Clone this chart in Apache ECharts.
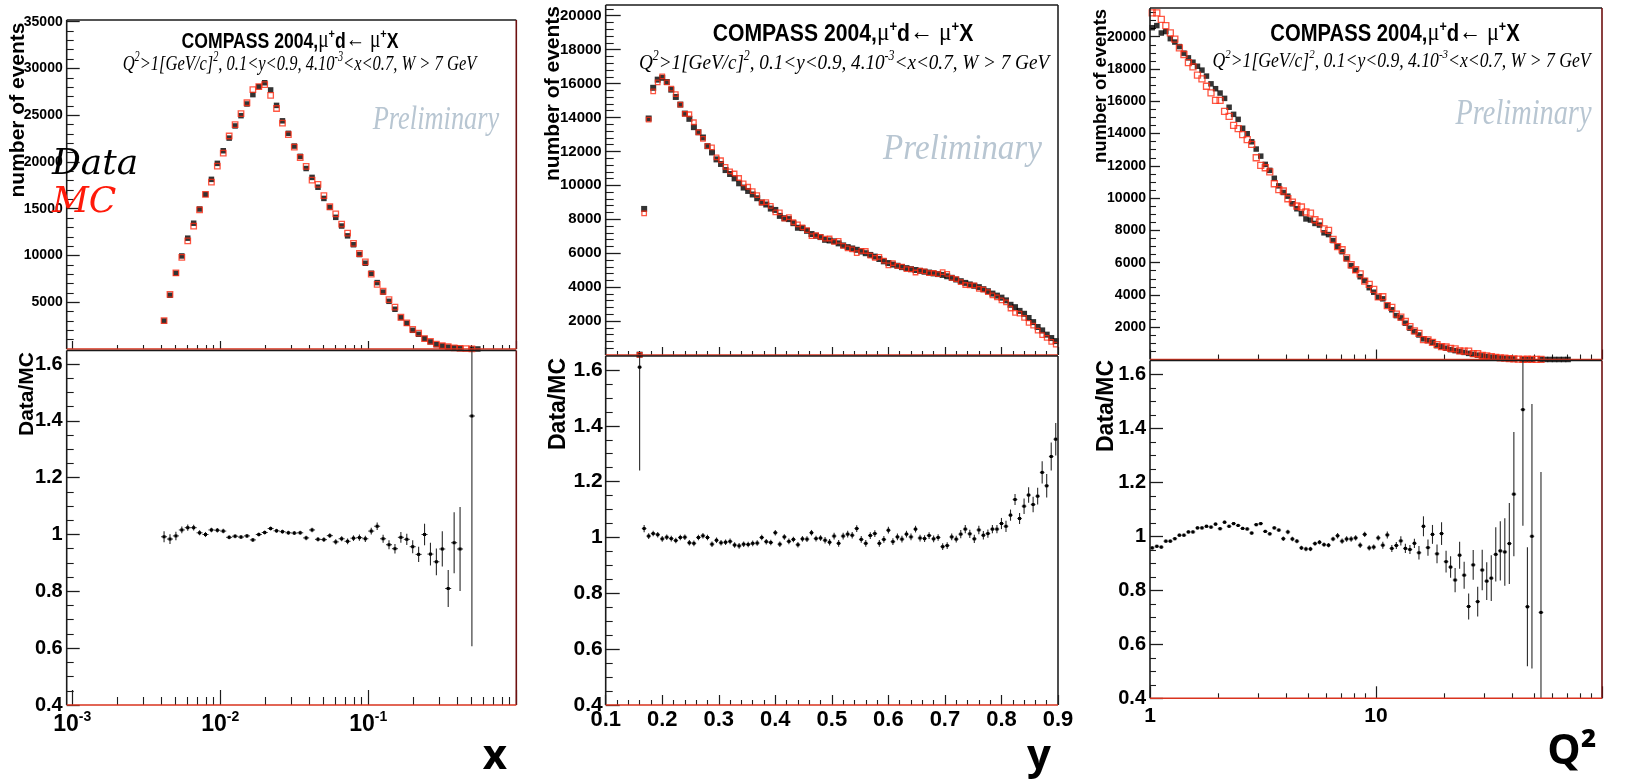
<!DOCTYPE html>
<html><head><meta charset="utf-8"><title>COMPASS 2004 Data vs MC</title>
<script src="https://cdn.jsdelivr.net/npm/echarts@6.0.0/dist/echarts.min.js"></script>
<style>html,body{margin:0;padding:0;background:#fff;}#chart{width:1630px;height:782px;}</style>
</head><body><div id="chart"></div>
<script>
// ---------------- Panel 1 : x (Bjorken x, log bins) ----------------
const xBins = [0.004169,0.004571,0.005012,0.005495,0.006026,0.006607,0.007244,0.007943,0.008710,0.009550,
 0.01047,0.01148,0.01259,0.01380,0.01514,0.01660,0.01820,0.01995,0.02188,0.02399,
 0.02630,0.02884,0.03162,0.03467,0.03802,0.04169,0.04571,0.05012,0.05495,0.06026,
 0.06607,0.07244,0.07943,0.08710,0.09550,0.1047,0.1148,0.1259,0.1380,0.1514,
 0.1660,0.1820,0.1995,0.2188,0.2399,0.2630,0.2884,0.3162,0.3467,0.3802,
 0.4169,0.4571,0.5012,0.5495];
const xData = [3000,5750,8100,9950,11850,13450,14970,16540,18140,19850,
 21200,22550,23850,24950,26200,27200,28050,28470,27700,26050,
 24400,23060,21700,20600,19300,18350,17300,16100,15150,14080,
 13150,12100,11150,10100,9170,8100,7100,6080,5100,4250,
 3360,2750,2000,1580,1120,760,470,330,200,120,
 70,null,6,3];
const xMC = [3024,5843,8141,9793,11572,13135,14881,16540,17854,19557,
 20949,22778,23994,25177,26332,27727,28050,28272,27130,25716,
 24158,22922,21592,20477,19534,18061,17599,16395,15211,14456,
 13350,12398,11297,10212,9310,8004,6900,6173,5290,4474,
 3394,2798,2090,1699,1120,816,520,348,247,124,
 74,40,4,null];
const xRatio = [0.992,0.984,0.995,1.016,1.024,1.024,1.006,1.0,1.016,1.015,
 1.012,0.99,0.994,0.991,0.995,0.981,1.0,1.007,1.021,1.013,
 1.01,1.006,1.005,1.006,0.988,1.016,0.983,0.982,0.996,0.974,
 0.985,0.976,0.987,0.989,0.985,1.012,1.029,0.985,0.964,0.95,
 0.99,0.983,0.957,0.93,1.0,0.931,0.904,0.949,0.81,0.971,
 0.949,null,1.417,null];
const xRatioErr = [0.019,0.017,0.015,0.012,0.011,0.010,0.009,0.009,0.008,0.008,
 0.008,0.007,0.007,0.007,0.007,0.007,0.007,0.007,0.007,0.007,
 0.007,0.007,0.007,0.007,0.008,0.008,0.008,0.008,0.008,0.009,
 0.009,0.010,0.010,0.011,0.011,0.012,0.013,0.014,0.016,0.017,
 0.019,0.020,0.023,0.027,0.038,0.040,0.047,0.062,0.065,0.107,
 0.148,null,0.81,null];

// ---------------- Panel 2 : y ----------------
const yBins = [0.160,0.168,0.176,0.184,0.192,0.200,0.208,0.216,0.224,0.232,
 0.240,0.248,0.256,0.264,0.272,0.280,0.288,0.296,0.304,0.312,
 0.320,0.328,0.336,0.344,0.352,0.360,0.368,0.376,0.384,0.392,
 0.400,0.408,0.416,0.424,0.432,0.440,0.448,0.456,0.464,0.472,
 0.480,0.488,0.496,0.504,0.512,0.520,0.528,0.536,0.544,0.552,
 0.560,0.568,0.576,0.584,0.592,0.600,0.608,0.616,0.624,0.632,
 0.640,0.648,0.656,0.664,0.672,0.680,0.688,0.696,0.704,0.712,
 0.720,0.728,0.736,0.744,0.752,0.760,0.768,0.776,0.784,0.792,
 0.800,0.808,0.816,0.824,0.832,0.840,0.848,0.856,0.864,0.872,
 0.880,0.888,0.896];
const yData = [20,8610,13940,15750,16230,16340,16090,15640,15210,14760,
 14230,13920,13430,13130,12820,12310,11940,11530,11260,10900,
 10670,10410,10120,9870,9670,9460,9240,8990,8870,8630,
 8550,8200,8060,8010,7770,7500,7480,7320,7130,7030,
 6950,6790,6750,6700,6580,6460,6360,6280,6200,6100,
 6000,5900,5800,5660,5520,5420,5330,5260,5180,5120,
 5060,5010,4960,4910,4860,4810,4770,4720,4640,4550,
 4450,4350,4250,4160,4080,4000,3880,3760,3620,3500,
 3380,3220,2960,2820,2600,2430,2180,1940,1650,1450,
 1200,1000,820];
const yMC = [12,8343,13871,15533,16069,16422,16074,15703,15379,14760,
 14216,14190,13718,13130,12744,12310,12234,11646,11478,11089,
 10822,10699,10433,10113,9918,9663,9429,8990,9005,8788,
 8407,8402,8044,8124,7825,7700,7518,7364,7011,7058,
 6964,6859,6867,6667,6721,6428,6285,6230,6008,6143,
 6129,5859,5720,5781,5559,5283,5411,5250,5211,5059,
 5050,4864,4970,4930,4826,4834,4770,4881,4779,4541,
 4477,4298,4126,4107,4101,3895,3849,3708,3515,3398,
 3219,3096,2741,2482,2434,2185,1892,1735,1437,1176,
 1013,775,607];
const yRatio = [1.61,1.032,1.005,1.014,1.01,0.995,1.001,0.996,0.989,1.0,
 1.001,0.981,0.979,1.0,1.006,1.0,0.976,0.99,0.981,0.983,
 0.986,0.973,0.97,0.976,0.975,0.979,0.98,1.0,0.985,0.982,
 1.017,0.976,1.002,0.986,0.993,0.974,0.995,0.994,1.017,0.996,
 0.998,0.99,0.983,1.005,0.979,1.005,1.012,1.008,1.032,0.993,
 0.979,1.007,1.014,0.979,0.993,1.026,0.985,1.002,0.994,1.012,
 1.002,1.03,0.998,0.996,1.007,0.995,1.0,0.967,0.971,1.002,
 0.994,1.012,1.03,1.013,0.995,1.027,1.008,1.014,1.03,1.03,
 1.05,1.04,1.08,1.136,1.068,1.112,1.152,1.118,1.148,1.233,
 1.185,1.29,1.352];
const yRatioErr = [0.37,0.013,0.010,0.010,0.010,0.010,0.010,0.010,0.010,0.010,
 0.010,0.010,0.010,0.010,0.010,0.010,0.010,0.010,0.010,0.010,
 0.010,0.010,0.010,0.010,0.010,0.010,0.010,0.010,0.010,0.010,
 0.010,0.010,0.010,0.010,0.010,0.010,0.010,0.010,0.010,0.010,
 0.010,0.012,0.012,0.012,0.012,0.012,0.012,0.012,0.012,0.012,
 0.012,0.012,0.012,0.012,0.012,0.012,0.012,0.012,0.012,0.012,
 0.012,0.012,0.012,0.012,0.012,0.012,0.012,0.012,0.012,0.012,
 0.012,0.015,0.015,0.015,0.015,0.015,0.015,0.015,0.015,0.015,
 0.020,0.020,0.020,0.020,0.020,0.028,0.028,0.028,0.030,0.040,
 0.042,0.050,0.058];

// ---------------- Panel 3 : Q^2 (log bins) ----------------
const qBins = [1.023,1.072,1.122,1.175,1.230,1.288,1.349,1.413,1.479,1.549,
 1.622,1.698,1.778,1.862,1.950,2.042,2.138,2.239,2.344,2.455,
 2.570,2.692,2.818,2.951,3.090,3.236,3.388,3.548,3.715,3.890,
 4.074,4.266,4.467,4.677,4.898,5.129,5.370,5.623,5.888,6.166,
 6.457,6.761,7.079,7.413,7.762,8.128,8.511,8.913,9.333,9.772,
 10.23,10.72,11.22,11.75,12.30,12.88,13.49,14.13,14.79,15.49,
 16.22,16.98,17.78,18.62,19.50,20.42,21.38,22.39,23.44,24.55,
 25.70,26.92,28.18,29.51,30.90,32.36,33.88,35.48,37.15,38.90,
 40.74,42.66,44.67,46.77,48.98,51.29,53.70,56.23,58.88,61.66,
 64.57,67.61,70.79];
const qData = [20560,20690,20230,20320,19880,19670,19390,18980,18690,18420,
 18170,17930,17560,17080,16780,16510,16180,15630,15190,14880,
 14330,13990,13490,13040,12600,12090,11720,11230,10760,10350,
 10120,9650,9340,9040,8710,8640,8430,8330,7850,7740,
 7370,7010,6680,6240,5810,5530,5130,4890,4450,4170,
 3860,3760,3350,3080,2720,2580,2250,1940,1730,1520,
 1280,1170,1070,860,800,700,610,550,500,440,
 380,320,270,225,185,150,120,95,75,58,
 42,null,18,12,7,null,4,3,2,1,
 1,1,1];
const qMC = [21480,21480,21070,20690,20240,19850,19310,18900,18400,18130,
 17620,17390,16930,16520,16060,16060,15380,15070,14510,14310,
 13930,13620,13330,12500,12030,11880,11620,10890,10520,10440,
 9960,9750,9510,9450,9140,9070,8660,8520,8100,8000,
 7440,7000,6800,6300,5870,5560,5310,4860,4650,4344,
 3883,3888,3333,3225,2816,2625,2356,2040,1776,1619,
 1234,1221,1063,920,792,773,688,656,538,514,
 514,358,356,257,222,178,129,100,80,60,
 36,28,12,16,7,5,6,null,null,null,
 null,null,null];
const qRatio = [0.957,0.963,0.96,0.982,0.982,0.991,1.004,1.004,1.016,1.016,
 1.031,1.031,1.037,1.034,1.045,1.028,1.052,1.037,1.047,1.04,
 1.029,1.027,1.012,1.043,1.047,1.018,1.009,1.031,1.023,0.991,
 1.016,0.99,0.982,0.957,0.953,0.953,0.973,0.978,0.969,0.967,
 0.99,1.002,0.982,0.99,0.99,0.994,0.967,1.007,0.957,0.96,
 0.994,0.967,1.005,0.955,0.966,0.983,0.955,0.951,0.974,0.939,
 1.037,0.958,1.007,0.935,1.01,0.906,0.886,0.838,0.93,0.856,
 0.74,0.894,0.758,0.875,0.834,0.845,0.933,0.946,0.942,0.973,
 1.156,null,1.469,0.739,1.0,null,0.718];
const qRatioErr = [0.006,0.006,0.006,0.006,0.006,0.006,0.006,0.006,0.006,0.006,
 0.006,0.006,0.006,0.006,0.006,0.006,0.006,0.006,0.006,0.006,
 0.006,0.006,0.006,0.006,0.006,0.006,0.006,0.006,0.006,0.008,
 0.008,0.008,0.008,0.008,0.008,0.008,0.008,0.008,0.008,0.008,
 0.008,0.010,0.010,0.010,0.010,0.010,0.010,0.010,0.010,0.010,
 0.010,0.013,0.013,0.013,0.013,0.017,0.017,0.017,0.017,0.025,
 0.037,0.030,0.035,0.035,0.042,0.040,0.040,0.045,0.050,0.050,
 0.048,0.055,0.055,0.075,0.070,0.085,0.100,0.110,0.125,0.150,
 0.23,null,0.43,0.22,0.49,null,0.52];

// ---------------- Tick values ----------------
const p1YTicks = [5000,10000,15000,20000,25000,30000,35000];
const p2YTicks = [2000,4000,6000,8000,10000,12000,14000,16000,18000,20000];
const p3YTicks = [2000,4000,6000,8000,10000,12000,14000,16000,18000,20000];
const ratioTicks = [0.4,0.6,0.8,1,1.2,1.4,1.6];
const p1XTicks = [0.001,0.01,0.1,1];
const p1XLabels = [0.001,0.01,0.1];
const p2XTicks = [0.1,0.2,0.3,0.4,0.5,0.6,0.7,0.8,0.9];
const p3XTicks = [1,10,100];
const p3XLabels = [1,10];

function seq(a, b, step) { const out = []; const n = Math.round((b - a) / step); for (let i = 0; i <= n; i++) out.push(+(a + i * step).toFixed(6)); return out; }
function minorOf(a, b, step, major) { return seq(a, b, step).filter(v => Math.abs(v / major - Math.round(v / major)) > 1e-6); }
function logMinor(decades) { const out = []; decades.forEach(d => { for (let m = 2; m <= 9; m++) out.push(+(m * d).toPrecision(6)); }); return out; }

// ---------------- Layout ----------------
const grids = [
  {left:72.3, top:20, width:444, height:329},
  {left:72.3, top:350.5, width:444, height:354.5},
  {left:605.7, top:5, width:452.3, height:350},
  {left:605.7, top:356, width:452.3, height:349},
  {left:1150, top:8, width:452, height:351.5},
  {left:1150, top:360.5, width:452, height:337.8}
];
const frameLeft = [66.7, 66.7, 605.7, 605.7, 1150, 1150];
const rightColor = ['#6e1010', '#6e1010', '#222', '#222', '#6e1010', '#6e1010'];

const TICK = '#1c1c1c';
function fmt(v) { return String(v); }
function xPair(g, o) {
  const base = {gridIndex:g, type:o.type, min:o.min, max:o.max, position:'bottom', axisLine:{show:false}, splitLine:{show:false}};
  if (o.type === 'log') base.logBase = 10;
  const major = Object.assign({}, base, {
    axisTick:{show:true, inside:true, length:o.majLen, customValues:o.major, lineStyle:{color:TICK, width:1.2}},
    axisLabel: o.labels ? Object.assign({show:true, customValues:o.labels, margin:o.margin, color:'#000',
      fontFamily:'Liberation Sans', fontWeight:'bold', fontSize:o.fs, formatter:o.formatter || fmt}, o.rich ? {rich:o.rich} : {}) : {show:false}
  });
  const minor = Object.assign({}, base, {
    axisTick:{show:true, inside:true, length:o.minLen, customValues:o.minor, lineStyle:{color:TICK, width:1.1}},
    axisLabel:{show:false}
  });
  return [major, minor];
}
function yPair(g, o) {
  const base = {gridIndex:g, type:'value', min:o.min, max:o.max, position:'left', offset:o.offset || 0, axisLine:{show:false}, splitLine:{show:false}};
  const major = Object.assign({}, base, {
    axisTick:{show:true, inside:true, length:o.majLen, customValues:o.major, lineStyle:{color:TICK, width:1.3}},
    axisLabel:{show:true, customValues:o.major, margin:o.margin, color:'#000', fontFamily:'Liberation Sans', fontWeight:'bold', fontSize:o.fs, formatter:fmt}
  });
  const minor = Object.assign({}, base, {
    axisTick:{show:true, inside:true, length:o.minLen, customValues:o.minor, lineStyle:{color:TICK, width:1.1}},
    axisLabel:{show:false}
  });
  return [major, minor];
}

const p1Rich = {
  b:{fontFamily:'Liberation Sans', fontWeight:'bold', fontSize:23, color:'#000', lineHeight:26, verticalAlign:'bottom'},
  s:{fontFamily:'Liberation Sans', fontWeight:'bold', fontSize:14, color:'#000', lineHeight:14, verticalAlign:'top'}
};

const xAxes = [].concat(
  xPair(0, {type:'log', min:0.001, max:1, major:p1XTicks, minor:logMinor([0.001,0.01,0.1]), majLen:8, minLen:4}),
  xPair(1, {type:'log', min:0.001, max:1, major:p1XTicks, minor:logMinor([0.001,0.01,0.1]), majLen:15, minLen:8,
            labels:p1XLabels, margin:5, fs:23, rich:p1Rich, formatter:v => '{b|10}{s|' + Math.round(Math.log10(v)) + '}'}),
  xPair(2, {type:'value', min:0.1, max:0.9, major:p2XTicks, minor:minorOf(0.12, 0.88, 0.02, 0.1), majLen:8, minLen:4}),
  xPair(3, {type:'value', min:0.1, max:0.9, major:p2XTicks, minor:minorOf(0.12, 0.88, 0.02, 0.1), majLen:10, minLen:5,
            labels:p2XTicks, margin:4, fs:22}),
  xPair(4, {type:'log', min:1, max:100, major:p3XTicks, minor:logMinor([1,10]), majLen:10, minLen:5}),
  xPair(5, {type:'log', min:1, max:100, major:p3XTicks, minor:logMinor([1,10]), majLen:12, minLen:5,
            labels:p3XLabels, margin:7, fs:21})
);
const yAxes = [].concat(
  yPair(0, {min:0, max:35180, major:p1YTicks, minor:minorOf(1000, 35000, 1000, 5000), majLen:13, minLen:7, fs:14, margin:4, offset:5.6}),
  yPair(1, {min:0.4, max:1.6475, major:ratioTicks, minor:minorOf(0.45, 1.6, 0.05, 0.2), majLen:13, minLen:7, fs:20, margin:4, offset:5.6}),
  yPair(2, {min:0, max:20630, major:p2YTicks, minor:minorOf(400, 20400, 400, 2000), majLen:15, minLen:8, fs:15, margin:4}),
  yPair(3, {min:0.4, max:1.65, major:ratioTicks, minor:minorOf(0.45, 1.6, 0.05, 0.2), majLen:14, minLen:7, fs:21, margin:3}),
  yPair(4, {min:0, max:21780, major:p3YTicks, minor:minorOf(500, 21500, 500, 2000), majLen:10, minLen:6, fs:14, margin:4}),
  yPair(5, {min:0.4, max:1.651, major:ratioTicks, minor:minorOf(0.45, 1.6, 0.05, 0.2), majLen:13, minLen:6, fs:20, margin:4})
);

// ---------------- Series helpers ----------------
function pts(xs, ys) { const out = []; for (let i = 0; i < xs.length; i++) if (ys[i] != null) out.push([xs[i], ys[i]]); return out; }
function errPts(xs, r, e) { const out = []; for (let i = 0; i < xs.length; i++) if (r[i] != null) out.push([xs[i], r[i], e[i]]); return out; }
function errRender(halfW, dot) {
  return function (params, api) {
    const x = api.value(0), y = api.value(1), e = api.value(2);
    const c = api.coord([x, y]);
    const cs = params.coordSys;
    const yTop = cs.y, yBot = cs.y + cs.height;
    const t = Math.max(api.coord([x, y + e])[1], yTop);
    const b = Math.min(api.coord([x, y - e])[1], yBot);
    const ch = [];
    if (b > t) ch.push({type:'line', shape:{x1:c[0], y1:t, x2:c[0], y2:b}, style:{stroke:'#2a2a2a', lineWidth:1.1}});
    if (c[1] >= yTop && c[1] <= yBot) {
      ch.push({type:'line', shape:{x1:c[0] - halfW, y1:c[1], x2:c[0] + halfW, y2:c[1]}, style:{stroke:'#2a2a2a', lineWidth:1}});
      ch.push({type:'rect', shape:{x:c[0] - dot / 2, y:c[1] - dot / 2, width:dot, height:dot}, style:{fill:'#000'}});
    }
    return {type:'group', children:ch};
  };
}
const RED = '#ff2d14';
function dataSeries(g, xs, ys, size) {
  return {type:'scatter', xAxisIndex:2 * g, yAxisIndex:2 * g, data:pts(xs, ys), symbol:'rect', symbolSize:size,
          itemStyle:{color:'#000'}, z:3, silent:true};
}
function mcSeries(g, xs, ys, size) {
  return {type:'scatter', xAxisIndex:2 * g, yAxisIndex:2 * g, data:pts(xs, ys), symbol:'rect', symbolSize:size,
          itemStyle:{color:'rgba(255,255,255,0)', borderColor:RED, borderWidth:1.3}, z:4, silent:true};
}
function ratioSeries(g, xs, r, e, halfW) {
  return {type:'custom', xAxisIndex:2 * g, yAxisIndex:2 * g, data:errPts(xs, r, e), encode:{x:0, y:1},
          renderItem:errRender(halfW, 3), z:5, silent:true};
}

// ---------------- Graphic: frames and texts ----------------
const gfx = [];
grids.forEach((g, i) => {
  const x0 = frameLeft[i], x1 = g.left + g.width, y0 = g.top, y1 = g.top + g.height;
  const ls = (x1_, y1_, x2_, y2_, col, w) => gfx.push({type:'line', silent:true, z:50, shape:{x1:x1_, y1:y1_, x2:x2_, y2:y2_}, style:{stroke:col, lineWidth:w}});
  ls(x0, y0, x1, y0, '#1a1a1a', 1.6);
  ls(x0, y0, x0, y1, '#1a1a1a', 1.6);
  ls(x1, y0, x1, y1, rightColor[i], 1.6);
  ls(x0, y1, x1, y1, '#d9331e', 1.6);
});
function T(x, y, text, font, fill, extra) {
  return Object.assign({type:'text', x:x, y:y, silent:true, z:60,
    style:{text:text, font:font, fill:fill || '#000', align:'center', verticalAlign:'middle', textAlign:'center', textVerticalAlign:'middle'}}, extra || {});
}
function titleEl(cx, cy, fs, sx) {
  return {type:'text', x:cx, y:cy, scaleX:sx, silent:true, z:60, style:{
    text:'{b|COMPASS 2004,}{m|\u03bc}{p|+}{b|d}{m|\u2190 \u03bc}{p|+}{b|X}', fill:'#000',
    align:'center', verticalAlign:'middle', textAlign:'center', textVerticalAlign:'middle',
    rich:{
      b:{fontFamily:'Liberation Sans', fontWeight:'bold', fontSize:fs, fill:'#000', lineHeight:fs * 1.15, verticalAlign:'bottom'},
      m:{fontFamily:'Liberation Serif', fontSize:fs * 1.1, fill:'#000', lineHeight:fs * 1.15, verticalAlign:'bottom'},
      p:{fontFamily:'Liberation Sans', fontWeight:'bold', fontSize:fs * 0.62, fill:'#000', lineHeight:fs * 0.62, verticalAlign:'top'}
    }}};
}
function subEl(cx, cy, fs, sx) {
  return {type:'text', x:cx, y:cy, scaleX:sx, silent:true, z:60, style:{
    text:'{i|Q}{s|2}{i|>1[GeV/c]}{s|2}{i|, 0.1<y<0.9, 4.10}{s|-3}{i|<x<0.7, W > 7 GeV}', fill:'#000',
    align:'center', verticalAlign:'middle', textAlign:'center', textVerticalAlign:'middle',
    rich:{
      i:{fontFamily:'Liberation Serif', fontStyle:'italic', fontSize:fs, fill:'#000', lineHeight:fs * 1.15, verticalAlign:'bottom'},
      s:{fontFamily:'Liberation Serif', fontStyle:'italic', fontSize:fs * 0.62, fill:'#000', lineHeight:fs * 0.62, verticalAlign:'top'}
    }}};
}
const PREL = '#b8c6d2';
gfx.push(
  titleEl(290, 40, 22, 0.8), subEl(299.5, 63, 22, 0.75),
  T(436, 120, 'Preliminary', 'italic 33px "Liberation Serif"', PREL, {scaleX:0.8}),
  titleEl(843, 33, 23, 0.92), subEl(844, 62, 22, 0.87),
  T(962.5, 150, 'Preliminary', 'italic 36px "Liberation Serif"', PREL, {scaleX:0.92}),
  titleEl(1395, 33, 23, 0.88), subEl(1401.5, 60, 21, 0.84),
  T(1523.5, 115, 'Preliminary', 'italic 35px "Liberation Serif"', PREL, {scaleX:0.81}),
  T(18.5, 110, 'number of events', 'bold 21px "Liberation Sans"', '#000', {rotation:Math.PI / 2}),
  T(553, 93.5, 'number of events', 'bold 21px "Liberation Sans"', '#000', {rotation:Math.PI / 2}),
  T(1101, 86, 'number of events', 'bold 18.5px "Liberation Sans"', '#000', {rotation:Math.PI / 2}),
  T(27, 394, 'Data/MC', 'bold 21px "Liberation Sans"', '#000', {rotation:Math.PI / 2}),
  T(559, 404, 'Data/MC', 'bold 23px "Liberation Sans"', '#000', {rotation:Math.PI / 2}),
  T(1107, 406, 'Data/MC', 'bold 23px "Liberation Sans"', '#000', {rotation:Math.PI / 2}),
  T(495, 757, 'x', 'bold 42px "Open Sans"'),
  T(1039, 757, 'y', 'bold 42px "Open Sans"'),
  T(1572, 752, 'Q\u00b2', 'bold 42px "Open Sans"'),
  {type:'text', x:52, y:165, silent:true, z:60, style:{text:'Data', font:'italic 36px "DejaVu Serif"', fill:'#000', align:'left', verticalAlign:'middle', textAlign:'left', textVerticalAlign:'middle'}},
  {type:'text', x:52, y:203, silent:true, z:60, style:{text:'MC', font:'italic 36px "DejaVu Serif"', fill:'#ff1a0a', align:'left', verticalAlign:'middle', textAlign:'left', textVerticalAlign:'middle'}}
);

const option = {
  backgroundColor:'#fff',
  animation:false,
  textStyle:{fontFamily:'Liberation Sans'},
  grid:grids.map(g => Object.assign({containLabel:false}, g)),
  xAxis:xAxes,
  yAxis:yAxes,
  series:[
    dataSeries(0, xBins, xData, 5.5), mcSeries(0, xBins, xMC, 5.5),
    ratioSeries(1, xBins, xRatio, xRatioErr, 3),
    dataSeries(2, yBins, yData, 6), mcSeries(2, yBins, yMC, 4.5),
    ratioSeries(3, yBins, yRatio, yRatioErr, 2.3),
    dataSeries(4, qBins, qData, 5.5), mcSeries(4, qBins, qMC, 6),
    ratioSeries(5, qBins, qRatio, qRatioErr, 2.3)
  ],
  graphic:{elements:gfx}
};
const chart = echarts.init(document.getElementById('chart'), null, {renderer:'canvas'});
chart.setOption(option);
</script></body></html>
